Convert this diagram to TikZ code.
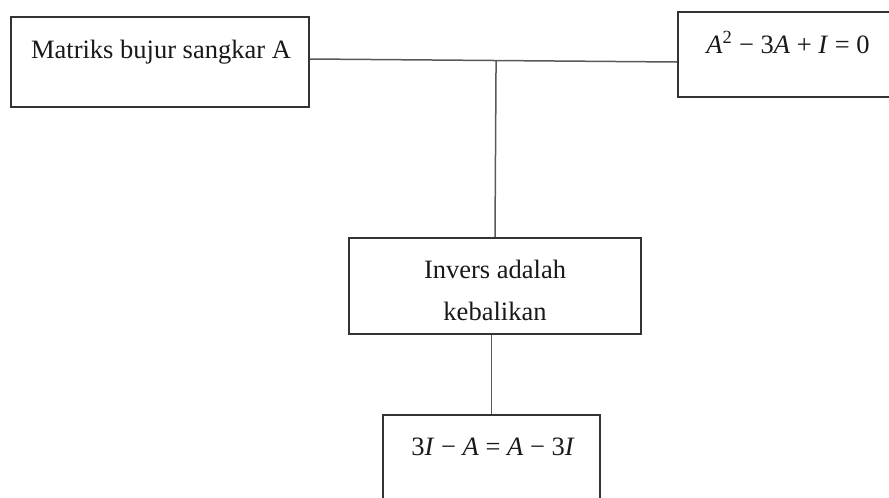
\documentclass[tikz,border=0pt]{standalone}
\usepackage{fontspec}
\setmainfont{Liberation Serif}
\usetikzlibrary{calc}
\tikzset{
  box/.style={draw=black!80, line width=2.2pt, fill=none, inner sep=0pt},
  link/.style={draw=black!65, line width=1.5pt},
  txt/.style={text=black!90, font=\fontsize{26.5}{42}\selectfont, inner sep=0pt, anchor=base},
}
\newcommand{\vr}[1]{\textit{#1}}
\begin{document}
\begin{tikzpicture}[x=1pt, y=-1pt]
  \useasboundingbox (0,0) rectangle (889,498);
  \clip (0,0) rectangle (889,498);

  % boxes
  \node[box, minimum width=298pt, minimum height=90pt] (b1) at (160,62) {};
  \node[box, minimum width=222pt, minimum height=85pt] (b2) at (789,54.5) {};
  \node[box, minimum width=292pt, minimum height=96pt] (b3) at (495,286) {};
  \node[box, minimum width=217pt, minimum height=96pt] (b4) at (491.5,463) {};

  % labels
  \node[txt] (t1) at (161,58) {Matriks bujur sangkar A};
  \node[txt] (t2) at (788,53) {\vr{A}\textsuperscript{2} − 3\vr{A} + \vr{I} = 0};
  \node[txt] (t3a) at (495,278) {Invers adalah};
  \node[txt] (t3b) at (495,320) {kebalikan};
  \node[txt] (t4) at (493,455) {3\vr{I} − \vr{A} = \vr{A} − 3\vr{I}};

  % connectors
  \coordinate (p1) at ($(b1.east)+(0,-3)$);
  \coordinate (p2) at ($(b2.west)+(0,7.5)$);
  \draw[link] (p1) -- (p2);
  \coordinate (j) at ($(p1)!0.507!(p2)$);
  \draw[link] (b3.north) -- (j);
  \draw[link] (b4.north) -- (b4.north |- b3.south);
\end{tikzpicture}
\end{document}
